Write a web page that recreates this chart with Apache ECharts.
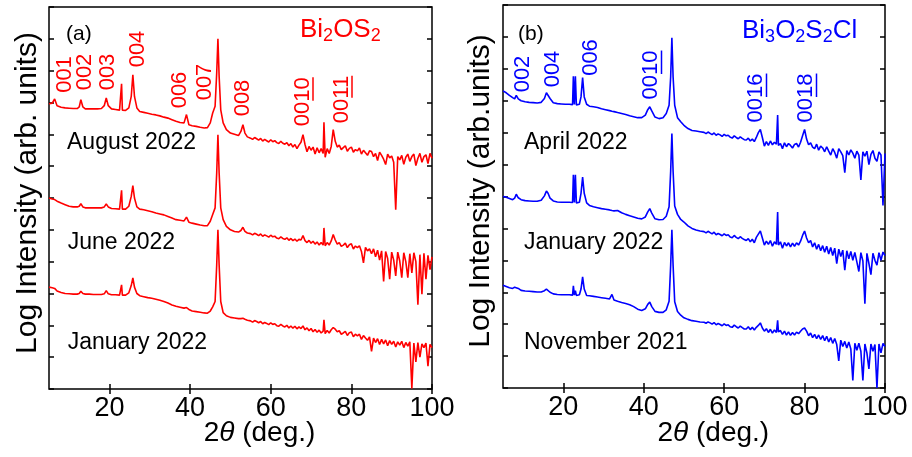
<!DOCTYPE html>
<html>
  <head>
    <meta charset="utf-8" />
    <title>XRD Bi2OS2 / Bi3O2S2Cl</title>
    <script src="https://cdn.jsdelivr.net/npm/echarts@6.0.0/dist/echarts.min.js"></script>
    <style>
      html, body { margin: 0; padding: 0; background: #fff; }
      #main { width: 912px; height: 457px; }
    </style>
  </head>
  <body>
    <div id="main"></div>
    <script type="text/javascript">
      // 2theta grid, panel (a) Bi2OS2
      const anglesA = [
        5, 5.8, 6.4, 7, 8, 9, 10, 11, 12, 12.5, 12.9, 13.4, 14, 15, 16, 17, 18, 18.7, 19.2, 19.7,
        20.5, 21.5, 22.5, 22.8, 23, 23.2, 24, 24.8, 25.4, 25.8, 26.2, 26.8, 27.5, 28.5, 29.5, 30.5, 31.5, 32.5, 33.5, 34.5,
        35.5, 36.5, 37.5, 38.5, 39.1, 39.7, 40.5, 41.5, 42.5, 43.5, 44.3, 45, 45.6, 46.2, 46.6, 46.9, 47.2, 47.6, 48.2, 49,
        50, 51, 52, 52.6, 53.1, 53.6, 54.2,
        55, 55.5, 56, 56.5, 57, 57.5, 58, 58.5, 59, 59.5, 60, 60.5, 61, 61.5, 62, 62.5, 63, 63.5, 64, 64.5,
        65, 65.5, 66, 66.5, 67, 67.5, 68, 68.5, 69, 69.5, 70, 70.5, 71, 71.5, 72, 72.5, 73, 73.2, 73.5, 74, 74.5,
        75, 75.5, 76, 76.5, 77, 77.5, 78, 78.5, 79, 79.5, 80, 80.5, 81, 81.5, 82, 82.5, 83, 83.5, 84, 84.5,
        85, 85.5, 86, 86.5, 87, 87.5, 88, 88.5, 89, 89.5, 90, 90.5, 91, 91.5, 92, 92.5, 93, 93.5, 94, 94.5,
        95, 95.5, 96, 96.5, 97, 97.5, 98, 98.5, 99, 99.5, 100
      ]

      // log intensity (offset, arb. units)
      const august2022 = [
        8.96, 8.98, 9.11, 8.90, 8.85, 8.83, 8.82, 8.81, 8.81, 8.86, 9.09, 8.86, 8.80, 8.80, 8.80, 8.80, 8.81, 8.90, 9.14, 8.90,
        8.80, 8.78, 8.76, 8.76, 9.59, 8.76, 8.75, 8.83, 9.19, 9.87, 9.19, 8.83, 8.72, 8.69, 8.66, 8.63, 8.61, 8.58, 8.54, 8.51,
        8.46, 8.41, 8.37, 8.36, 8.62, 8.30, 8.27, 8.25, 8.22, 8.20, 8.21, 8.36, 8.67, 8.88, 9.93, 11.0, 9.82, 8.77, 8.36, 8.15,
        8.04, 8.00, 7.96, 8.09, 8.30, 8.04, 7.92,
        7.88, 7.84, 7.90, 7.86, 7.82, 7.87, 7.79, 7.84, 7.80, 7.76, 7.83, 7.77, 7.80, 7.74, 7.71, 7.78, 7.72, 7.69, 7.74, 7.64,
        7.71, 7.60, 7.68, 7.55, 7.66, 7.75, 7.99, 7.68, 7.45, 7.62, 7.50, 7.60, 7.38, 7.58, 7.42, 7.55, 7.40, 8.38, 7.28, 7.55, 7.40,
        7.62, 8.15, 7.78, 7.60, 7.66, 7.52, 7.58, 7.64, 7.47, 7.56, 7.60, 7.44, 7.52, 7.48, 7.57, 7.38, 7.50, 7.42, 7.34, 7.48,
        7.46, 7.30, 7.40, 7.18, 7.44, 7.34, 7.22, 7.05, 7.38, 7.26, 7.32, 7.12, 5.63, 7.30, 7.20, 7.34, 7.06, 7.28, 7.38, 7.15,
        7.30, 7.38, 7.02, 7.25, 7.40, 7.12, 7.30, 7.36, 7.08, 7.40, 7.25
      ]
      const june2022 = [
        6.00, 5.97, 5.95, 5.90, 5.84, 5.79, 5.74, 5.72, 5.72, 5.74, 5.82, 5.72, 5.69, 5.69, 5.69, 5.69, 5.69, 5.72, 5.81, 5.72,
        5.67, 5.66, 5.65, 5.65, 6.24, 5.65, 5.65, 5.74, 6.05, 6.39, 6.00, 5.72, 5.65, 5.63, 5.60, 5.57, 5.53, 5.50, 5.47, 5.42,
        5.37, 5.32, 5.30, 5.28, 5.40, 5.24, 5.21, 5.18, 5.15, 5.13, 5.13, 5.27, 5.48, 5.69, 6.79, 7.99, 6.79, 5.69, 5.32, 5.11,
        5.00, 4.95, 4.93, 4.98, 5.08, 4.95, 4.90,
        4.88, 4.84, 4.89, 4.86, 4.82, 4.87, 4.80, 4.84, 4.81, 4.77, 4.83, 4.78, 4.80, 4.74, 4.72, 4.78, 4.73, 4.70, 4.75, 4.67,
        4.73, 4.66, 4.71, 4.64, 4.70, 4.68, 4.82, 4.66, 4.60, 4.67, 4.58, 4.64, 4.55, 4.62, 4.52, 4.60, 4.52, 5.06, 4.50, 4.60, 4.52,
        4.65, 4.85, 4.68, 4.55, 4.60, 4.48, 4.52, 4.58, 4.44, 4.53, 4.56, 4.40, 4.49, 4.44, 4.50, 4.32, 3.96, 4.45, 4.34, 4.40,
        4.25, 4.40, 4.15, 4.36, 4.05, 4.34, 3.38, 4.32, 4.10, 3.45, 4.30, 4.05, 3.55, 4.30, 4.02, 3.50, 4.28, 4.00, 3.50, 4.25,
        3.65, 4.28, 4.00, 2.65, 4.22, 2.98, 4.26, 3.45, 4.20, 3.75, 4.15
      ]
      const january2022a = [
        3.20, 3.18, 3.16, 3.08, 3.03, 3.00, 2.99, 2.98, 2.98, 3.00, 3.07, 3.00, 2.98, 2.98, 2.97, 2.97, 2.97, 2.99, 3.09, 2.99,
        2.96, 2.96, 2.95, 2.95, 3.27, 2.95, 2.95, 3.02, 3.25, 3.49, 3.20, 3.00, 2.93, 2.90, 2.87, 2.85, 2.82, 2.79, 2.75, 2.70,
        2.64, 2.60, 2.57, 2.54, 2.56, 2.50, 2.45, 2.43, 2.41, 2.39, 2.38, 2.45, 2.58, 2.75, 3.90, 5.00, 3.90, 2.75, 2.40, 2.30,
        2.25, 2.23, 2.21, 2.21, 2.22, 2.19, 2.16,
        2.14, 2.10, 2.15, 2.12, 2.08, 2.12, 2.05, 2.09, 2.06, 2.02, 2.08, 2.03, 2.05, 1.99, 1.97, 2.03, 1.98, 1.95, 2.00, 1.92,
        1.98, 1.91, 1.97, 1.89, 1.95, 1.90, 1.98, 1.86, 1.92, 1.83, 1.90, 1.80, 1.87, 1.78, 1.85, 1.76, 1.82, 2.17, 1.74, 1.84, 1.76,
        1.86, 1.93, 1.88, 1.80, 1.83, 1.72, 1.76, 1.81, 1.68, 1.77, 1.79, 1.64, 1.72, 1.67, 1.72, 1.56, 1.68, 1.60, 1.53, 1.64,
        1.18, 1.60, 1.46, 1.58, 1.40, 1.56, 1.42, 1.54, 1.36, 1.52, 1.40, 1.50, 1.32, 1.48, 1.38, 1.50, 1.30, 1.46, 1.35, 1.48,
        0.02, 1.44, 0.85, 1.46, 1.00, 1.42, 1.30, 1.44, 0.72, 1.40, 1.30
      ]

      // 2theta grid, panel (b) Bi3O2S2Cl
      const anglesB = [
        5, 5.8, 6.6, 7.4, 7.9, 8.3, 8.8, 9.5, 10.5, 11.5, 12.5, 13.5, 14.5, 15.3, 15.8, 16.2, 16.7, 17.5, 18.5, 19.5,
        20.5, 21.5, 22.3, 22.5, 22.75, 23, 23.25, 24, 24.4, 24.8, 25.2, 25.8, 26.5, 27.5, 28.5, 29.5, 30.5, 31.5, 32.1, 32.6,
        33.5, 34.5, 35.5, 36.5, 37.5, 38.5, 39.5, 40.4, 41, 41.5, 42, 42.8, 43.8, 44.8, 45.6, 46.3, 46.7, 47, 47.3, 47.7,
        48.4, 49.2, 50, 51, 52, 53, 54, 55,
        55.5, 56, 56.5, 57, 57.5, 58, 58.5, 59, 59.5, 60, 60.5, 61, 61.5, 62, 62.5, 63, 63.5, 64, 64.5, 65,
        65.5, 66, 66.5, 67, 67.5, 68, 68.5, 69, 69.5, 70, 70.5, 71, 71.5, 72, 72.5, 73, 73.3, 73.5, 74, 74.5, 75,
        75.5, 76, 76.5, 77, 77.5, 78, 78.5, 79, 79.5, 80, 80.5, 81, 81.5, 82, 82.5, 83, 83.5, 84, 84.5, 85,
        85.5, 86, 86.5, 87, 87.5, 88, 88.5, 89, 89.5, 90, 90.5, 91, 91.5, 92, 92.5, 93, 93.5, 94, 94.5, 95,
        95.5, 96, 96.5, 97, 97.5, 98, 98.5, 99, 99.5, 100
      ]
      const april2022 = [
        9.31, 9.25, 9.17, 9.10, 9.06, 9.17, 9.06, 9.00, 8.97, 8.95, 8.94, 8.93, 8.95, 9.07, 9.25, 9.27, 9.07, 8.94, 8.91, 8.90,
        8.89, 8.89, 8.88, 9.77, 8.88, 9.77, 8.87, 8.89, 9.12, 9.73, 9.12, 8.89, 8.83, 8.81, 8.79, 8.75, 8.72, 8.69, 8.67, 8.66,
        8.63, 8.60, 8.57, 8.53, 8.50, 8.47, 8.47, 8.55, 8.72, 8.81, 8.68, 8.49, 8.44, 8.47, 8.60, 8.86, 9.75, 10.97, 9.75, 8.86,
        8.47, 8.34, 8.23, 8.13, 8.07, 8.05, 8.03, 8.01,
        7.97, 8.02, 7.98, 7.94, 7.99, 7.92, 7.96, 7.93, 7.88, 7.95, 7.90, 7.92, 7.86, 7.83, 7.90, 7.85, 7.81, 7.87, 7.82, 7.78,
        7.77, 7.83, 7.74, 7.80, 7.72, 7.85, 8.00, 8.10, 7.85, 7.58, 7.72, 7.60, 7.74, 7.62, 7.70, 7.64, 8.55, 7.60, 7.66, 7.50, 7.68,
        7.56, 7.66, 7.60, 7.52, 7.63, 7.66, 7.55, 7.70, 7.90, 8.10, 7.80, 7.62, 7.68, 7.55, 7.50, 7.64, 7.45, 7.58, 7.52, 7.40,
        7.56, 7.42, 7.30, 7.50, 7.38, 7.20, 7.50, 7.40, 7.28, 6.75, 7.44, 7.30, 7.46, 7.36, 7.20, 7.42, 7.30, 6.52, 7.40, 7.26,
        7.42, 7.00, 7.32, 7.44, 7.20, 7.10, 7.40, 7.30, 5.72, 7.35
      ]
      const january2022b = [
        6.00, 5.98, 5.94, 5.90, 5.95, 6.07, 5.96, 5.90, 5.87, 5.86, 5.85, 5.85, 5.88, 6.02, 6.17, 6.10, 5.95, 5.86, 5.83, 5.82,
        5.82, 5.82, 5.81, 6.68, 5.81, 6.68, 5.80, 5.82, 6.10, 6.61, 6.10, 5.80, 5.72, 5.68, 5.65, 5.62, 5.60, 5.58, 5.56, 5.55,
        5.56, 5.49, 5.44, 5.40, 5.36, 5.32, 5.30, 5.36, 5.52, 5.62, 5.48, 5.30, 5.27, 5.28, 5.38, 5.68, 6.80, 7.97, 6.80, 5.70,
        5.44, 5.28, 5.20, 5.08, 5.00, 4.95, 4.92, 4.90,
        4.86, 4.91, 4.87, 4.83, 4.88, 4.80, 4.84, 4.81, 4.77, 4.83, 4.78, 4.80, 4.73, 4.71, 4.78, 4.72, 4.68, 4.74, 4.69, 4.65,
        4.62, 4.68, 4.58, 4.66, 4.55, 4.72, 4.82, 4.92, 4.70, 4.48, 4.60, 4.50, 4.62, 4.44, 4.58, 4.50, 5.51, 4.48, 4.58, 4.38, 4.56,
        4.45, 4.55, 4.42, 4.54, 4.44, 4.55, 4.48, 4.60, 4.78, 4.92, 4.70, 4.55, 4.62, 4.42, 4.55, 4.35, 4.50, 4.30, 4.46, 4.25,
        4.44, 4.20, 4.40, 4.15, 4.38, 3.90, 4.35, 4.12, 4.32, 3.69, 4.30, 4.05, 4.28, 4.00, 4.25, 3.95, 3.65, 4.24, 3.98, 2.64,
        4.22, 3.90, 3.55, 4.22, 4.00, 3.85, 4.24, 4.00, 4.26, 4.15
      ]
      const november2021 = [
        3.22, 3.18, 3.14, 3.12, 3.16, 3.18, 3.12, 3.06, 3.04, 3.03, 3.02, 3.01, 3.01, 3.05, 3.10, 3.08, 3.00, 2.95, 2.93, 2.92,
        2.92, 2.92, 2.91, 3.20, 2.91, 3.05, 2.90, 2.92, 3.10, 3.48, 3.10, 2.90, 2.89, 2.87, 2.85, 2.83, 2.81, 2.79, 2.93, 2.76,
        2.72, 2.68, 2.65, 2.61, 2.55, 2.47, 2.43, 2.48, 2.62, 2.69, 2.55, 2.40, 2.37, 2.37, 2.45, 2.72, 3.85, 4.96, 3.85, 2.70,
        2.40, 2.28, 2.20, 2.15, 2.11, 2.09, 2.07, 2.06,
        2.03, 2.07, 2.04, 2.00, 2.05, 1.98, 2.02, 1.99, 1.95, 2.01, 1.96, 1.98, 1.92, 1.90, 1.97, 1.92, 1.88, 1.94, 1.89, 1.85,
        1.85, 1.92, 1.83, 1.90, 1.82, 1.90, 1.96, 2.04, 1.88, 1.78, 1.86, 1.74, 1.84, 1.72, 1.82, 1.74, 2.12, 1.76, 1.80, 1.68, 1.78,
        1.66, 1.76, 1.65, 1.74, 1.66, 1.75, 1.70, 1.78, 1.85, 1.88, 1.78, 1.64, 1.72, 1.58, 1.68, 1.55, 1.66, 1.52, 1.64, 1.48,
        1.62, 1.44, 1.58, 1.40, 1.55, 1.36, 0.85, 1.50, 1.30, 1.46, 1.25, 1.44, 1.22, 0.24, 1.40, 1.18, 1.40, 1.15, 0.24, 1.38,
        1.10, 0.60, 1.38, 1.15, 1.36, 0.00, 1.38, 1.10, 1.40, 1.30
      ]

      const xTicks = [20, 40, 60, 80, 100]

      // text annotations: [plain part, underlined part]
      const datesA = ['August 2022', 'June 2022', 'January 2022']
      const datesB = ['April 2022', 'January 2022', 'November 2021']
      const peaksA = [['001', ''], ['002', ''], ['003', ''], ['004', ''], ['006', ''], ['007', ''], ['008', ''], ['00', '10'], ['00', '11']]
      const peaksB = [['002', ''], ['004', ''], ['006', ''], ['00', '10'], ['00', '16'], ['00', '18']]

      const FONT = '"Liberation Sans", Arial, Helvetica, sans-serif'
      const RED = '#ff0000'
      const BLUE = '#0000ff'
      const PEAK_SIZE = 22

      function pairs(xs, ys) {
        if (xs.length !== ys.length) console.warn('length mismatch', xs.length, ys.length)
        return xs.map((x, i) => [x, ys[i]])
      }

      const measureCtx = document.createElement('canvas').getContext('2d')
      function textWidth(s, size) {
        measureCtx.font = size + 'px ' + FONT
        return measureCtx.measureText(s).width
      }

      var myChart = echarts.init(document.getElementById('main'), null, { renderer: 'canvas' })

      const tick = { show: true, inside: true, length: 5, lineStyle: { color: '#000', width: 1.5 } }

      function xAxisPair(g) {
        return [
          {
            gridIndex: g, type: 'value', min: 5, max: 100, position: 'bottom',
            axisLine: { show: false }, splitLine: { show: false },
            axisTick: Object.assign({ customValues: xTicks }, tick),
            axisLabel: { customValues: xTicks, margin: 6, fontSize: 27, color: '#000', fontFamily: FONT },
          },
          {
            gridIndex: g, type: 'value', min: 5, max: 100, position: 'top',
            axisLine: { show: false }, splitLine: { show: false },
            axisTick: Object.assign({ customValues: xTicks }, tick),
            axisLabel: { show: false },
          },
        ]
      }
      function yAxisPair(g) {
        return ['left', 'right'].map((pos) => ({
          gridIndex: g, type: 'value', min: 0, max: 12, interval: 1, position: pos,
          axisLine: { show: false }, splitLine: { show: false },
          axisTick: tick, axisLabel: { show: false },
        }))
      }

      function line(name, xs, ys, color, axis) {
        return {
          name, type: 'line', data: pairs(xs, ys), xAxisIndex: axis, yAxisIndex: axis,
          showSymbol: false, symbol: 'none', clip: true, animation: false,
          lineStyle: { color, width: 1.6 },
        }
      }

      function txt(x, y, text, size, color, extra, align) {
        return Object.assign(
          { type: 'text', x, y, silent: true,
            style: { text, font: size + 'px ' + FONT, fill: color, align: align || 'left', verticalAlign: 'middle' } },
          extra || {}
        )
      }
      // rotated Miller index label, underline drawn under the second part
      function peak(x, y, p, color) {
        const full = p[0] + p[1]
        const w = textWidth(full, PEAK_SIZE)
        const children = [
          { type: 'text', x: 0, y: 0, silent: true,
            style: { text: full, font: PEAK_SIZE + 'px ' + FONT, fill: color, align: 'center', verticalAlign: 'middle' } },
        ]
        if (p[1]) {
          const wu = textWidth(p[1], PEAK_SIZE)
          children.push({
            type: 'line', silent: true,
            shape: { x1: w / 2 - wu + 1, y1: 10.5, x2: w / 2, y2: 10.5 },
            style: { stroke: color, lineWidth: 1.5 },
          })
        }
        return { type: 'group', x, y, rotation: Math.PI / 2, children }
      }
      function formula(x, y, parts, color) {
        const rich = {
          m: { fontSize: 26, fontFamily: FONT, fill: color, lineHeight: 30, verticalAlign: 'middle' },
          s: { fontSize: 18, fontFamily: FONT, fill: color, lineHeight: 10, verticalAlign: 'bottom' },
        }
        const text = parts.map((p) => '{' + (p[1] ? 's' : 'm') + '|' + p[0] + '}').join('')
        return { type: 'text', x, y, silent: true, style: { text, rich, fill: color, align: 'left', verticalAlign: 'top' } }
      }
      function xTitle(x) {
        return {
          type: 'text', x, y: 433, silent: true,
          style: {
            text: '{n|2}{i|θ}{n| (deg.)}', align: 'center', verticalAlign: 'middle',
            rich: {
              n: { fontSize: 28, fontFamily: FONT, fill: '#000' },
              i: { fontSize: 28, fontFamily: FONT, fontStyle: 'italic', fill: '#000' },
            },
          },
        }
      }

      const graphics = [
        txt(27.5, 193, 'Log Intensity (arb. units)', 30, '#000', { rotation: Math.PI / 2 }, 'center'),
        txt(481, 191, 'Log Intensity (arb.units)', 30, '#000', { rotation: Math.PI / 2 }, 'center'),
        xTitle(259.5),
        xTitle(713.3),
        txt(66, 34, '(a)', 21, '#000'),
        txt(518, 34, '(b)', 21, '#000'),
        txt(67, 142.5, datesA[0], 23, '#000'),
        txt(67.7, 243, datesA[1], 23, '#000'),
        txt(67.7, 343, datesA[2], 23, '#000'),
        txt(524, 143, datesB[0], 23, '#000'),
        txt(524, 243, datesB[1], 23, '#000'),
        txt(524, 343, datesB[2], 23, '#000'),
        formula(300, 14.7, [['Bi', 0], ['2', 1], ['OS', 0], ['2', 1]], RED),
        formula(742, 16.3, [['Bi', 0], ['3', 1], ['O', 0], ['2', 1], ['S', 0], ['2', 1], ['Cl', 0]], BLUE),
      ]
      const peakPosA = [[65, 74.5], [85, 72], [107.5, 72], [137.5, 49], [180, 90], [205, 82], [242.5, 98], [302.5, 101.7], [341.5, 99.5]]
      const peakPosB = [[523, 74], [552.5, 69], [591, 57.5], [651, 75], [756, 98], [806, 98]]
      peaksA.forEach((p, i) => graphics.push(peak(peakPosA[i][0], peakPosA[i][1], p, RED)))
      peaksB.forEach((p, i) => graphics.push(peak(peakPosB[i][0], peakPosB[i][1], p, BLUE)))

      const gridBase = { show: true, borderColor: '#000', borderWidth: 1.5, backgroundColor: 'transparent', containLabel: false }

      option = {
        animation: false,
        backgroundColor: '#fff',
        grid: [
          Object.assign({ left: 49, right: 480, top: 7, bottom: 68 }, gridBase),
          Object.assign({ left: 503, right: 27, top: 5, bottom: 69 }, gridBase),
        ],
        xAxis: [...xAxisPair(0), ...xAxisPair(1)],
        yAxis: [...yAxisPair(0), ...yAxisPair(1)],
        series: [
          line('August 2022', anglesA, august2022, RED, 0),
          line('June 2022', anglesA, june2022, RED, 0),
          line('January 2022', anglesA, january2022a, RED, 0),
          line('April 2022', anglesB, april2022, BLUE, 2),
          line('January 2022 (b)', anglesB, january2022b, BLUE, 2),
          line('November 2021', anglesB, november2021, BLUE, 2),
        ],
        graphic: graphics,
      }

      myChart.setOption(option)
    </script>
  </body>
</html>
